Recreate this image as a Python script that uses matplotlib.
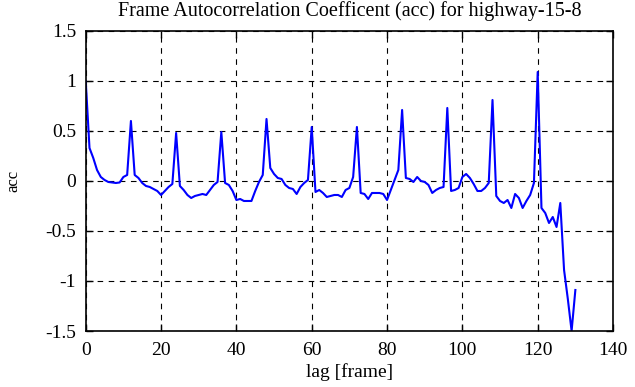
import numpy as np
import matplotlib
matplotlib.use("Agg")
import matplotlib.pyplot as plt

# autocorrelation coefficient per lag
lags = np.arange(0, 131)
acc = [
    1.00, 0.33, 0.23, 0.11, 0.04, 0.01, -0.01, -0.015, -0.02, -0.015,
    0.04, 0.06, 0.60, 0.06, 0.03, -0.02, -0.05, -0.06, -0.08, -0.10,
    -0.14, -0.10, -0.06, -0.03, 0.48, -0.05, -0.09, -0.14, -0.17, -0.15,
    -0.14, -0.13, -0.14, -0.09, -0.04, -0.01, 0.49, -0.02, -0.04, -0.10,
    -0.19, -0.18, -0.20, -0.20, -0.20, -0.10, -0.01, 0.06, 0.62, 0.13,
    0.07, 0.03, 0.02, -0.04, -0.07, -0.08, -0.13, -0.06, -0.02, 0.01,
    0.54, -0.11, -0.09, -0.12, -0.16, -0.15, -0.14, -0.14, -0.16, -0.09,
    -0.07, 0.04, 0.54, -0.12, -0.13, -0.18, -0.12, -0.12, -0.12, -0.13,
    -0.19, -0.09, 0.01, 0.11, 0.71, 0.03, 0.02, -0.01, 0.04, 0.00,
    -0.01, -0.04, -0.12, -0.09, -0.07, -0.06, 0.73, -0.10, -0.09, -0.07,
    0.04, 0.07, 0.03, -0.03, -0.10, -0.10, -0.07, -0.02, 0.81, -0.15,
    -0.20, -0.22, -0.19, -0.27, -0.13, -0.17, -0.27, -0.20, -0.14, -0.02,
    1.09, -0.27, -0.32, -0.42, -0.36, -0.46, -0.22, -0.89, -1.18, -1.50,
    -1.09,
]

xticks = [0, 20, 40, 60, 80, 100, 120, 140]
yticks = [-1.5, -1, -0.5, 0, 0.5, 1, 1.5]
yticklabels = ["-1.5", "-1", "-0.5", "0", "0.5", "1", "1.5"]

plt.rcParams["font.family"] = ["Liberation Serif", "DejaVu Serif"]

fig = plt.figure(figsize=(6.35, 3.87), dpi=100)
ax = fig.add_axes([0.135, 0.1447, 0.8304, 0.7753])
ax.plot(lags, acc, color="#0000ff", linewidth=1.5)
ax.set_xlim(0, 140)
ax.set_ylim(-1.5, 1.5)
ax.set_xticks(xticks)
ax.set_yticks(yticks)
ax.set_yticklabels(yticklabels)
ax.grid(True, color="black", linestyle=(0, (5, 5)), linewidth=0.8)
ax.tick_params(direction="in", top=True, right=True, length=5, width=1, labelsize=14)
ax.tick_params(axis="x", pad=8)
ax.tick_params(axis="y", pad=7)
for s in ax.spines.values():
    s.set_linewidth(1.2)
ax.set_xlabel("lag [frame]", fontsize=14, labelpad=3)
ax.set_ylabel("acc", fontsize=12, labelpad=17)
ax.set_title("Frame Autocorrelation Coefficent (acc) for highway-15-8", fontsize=14.5, pad=11)

plt.savefig("out.png", dpi=100)
